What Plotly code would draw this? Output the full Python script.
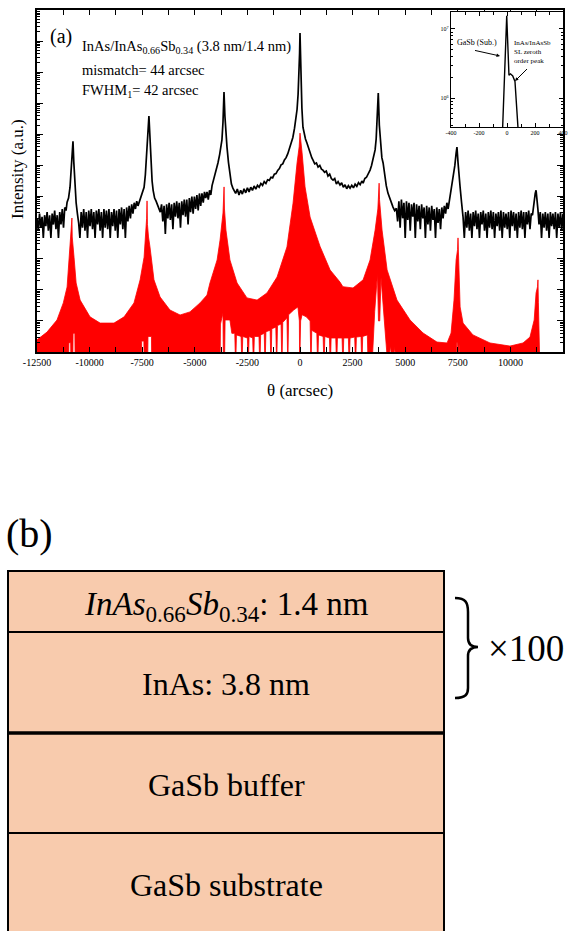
import plotly.graph_objects as go

# ---------------- data ----------------
# Measured HRXRD curve: (theta [arcsec], log10 intensity [a.u.])
black_curve = [
    (-12500, 4.30), (-12440, 3.90), (-12380, 4.45), (-12320, 4.00), (-12260, 4.35), (-12200, 3.67),
    (-12140, 4.40), (-12080, 4.05), (-12020, 4.50), (-11960, 3.90), (-11900, 4.40), (-11840, 3.67),
    (-11780, 4.45), (-11720, 4.10), (-11660, 4.55), (-11600, 3.95), (-11540, 4.40), (-11480, 3.67),
    (-11420, 4.50), (-11360, 4.10), (-11300, 4.60), (-11240, 4.00), (-11180, 4.65),
    (-11120, 4.55), (-11070, 4.82), (-11000, 4.95), (-10930, 5.30), (-10870, 5.90), (-10830, 6.40),
    (-10790, 6.78), (-10750, 6.10), (-10700, 5.30), (-10640, 4.80), (-10580, 4.45), (-10520, 4.15),
    (-10460, 3.67), (-10400, 4.50), (-10340, 4.00), (-10280, 4.60), (-10220, 3.90), (-10160, 4.50),
    (-10100, 3.67), (-10040, 4.55), (-9980, 4.05), (-9920, 4.60), (-9860, 3.95), (-9800, 4.50),
    (-9740, 3.67), (-9680, 4.55), (-9620, 4.10), (-9560, 4.60), (-9500, 3.90), (-9440, 4.50),
    (-9380, 3.67), (-9320, 4.60), (-9260, 4.00), (-9200, 4.55), (-9140, 3.95), (-9080, 4.60),
    (-9020, 3.67), (-8960, 4.50), (-8900, 4.05), (-8840, 4.60), (-8780, 3.90), (-8720, 4.55),
    (-8660, 3.67), (-8600, 4.60), (-8540, 4.10), (-8480, 4.65), (-8420, 3.95), (-8360, 4.60),
    (-8300, 3.67), (-8240, 4.65), (-8180, 4.20), (-8120, 4.70), (-8060, 4.30),
    (-8000, 4.75), (-7940, 4.45), (-7880, 4.80), (-7820, 4.60), (-7760, 4.85), (-7700, 4.70),
    (-7650, 4.80), (-7550, 5.00), (-7470, 5.15), (-7410, 5.30), (-7350, 5.70), (-7290, 6.30),
    (-7230, 7.00), (-7180, 7.59), (-7130, 6.90), (-7070, 6.00), (-7030, 5.50), (-6980, 5.20),
    (-6910, 4.95), (-6840, 4.85), (-6770, 4.70), (-6700, 4.55),
    (-6640, 4.50), (-6580, 4.75), (-6520, 4.20), (-6460, 4.70), (-6400, 3.80), (-6340, 4.75),
    (-6280, 4.30), (-6220, 4.80), (-6160, 4.25), (-6100, 4.75), (-6040, 3.95), (-5980, 4.80),
    (-5920, 4.35), (-5860, 4.85), (-5800, 4.30), (-5740, 4.80), (-5680, 4.00), (-5620, 4.85),
    (-5560, 4.40), (-5500, 4.90), (-5440, 4.35), (-5380, 4.90), (-5320, 4.10), (-5260, 4.95),
    (-5200, 4.50), (-5140, 5.00), (-5080, 4.45), (-5020, 5.00), (-4960, 4.60), (-4900, 5.05),
    (-4840, 4.55), (-4780, 5.10), (-4720, 4.70), (-4660, 5.10), (-4600, 4.80), (-4540, 5.15),
    (-4480, 4.95), (-4420, 5.15), (-4360, 4.90), (-4300, 5.20), (-4240, 5.05), (-4180, 5.35),
    (-4130, 5.47), (-4050, 5.65), (-3980, 5.85), (-3900, 6.08), (-3820, 6.35), (-3760, 6.55),
    (-3710, 6.82), (-3660, 7.40), (-3612, 8.36), (-3570, 7.60), (-3520, 7.00), (-3470, 6.59),
    (-3400, 6.10), (-3330, 5.63), (-3260, 5.40), (-3190, 5.27), (-3120, 5.20),
    (-3060, 5.10), (-2980, 5.24), (-2900, 5.05), (-2820, 5.20), (-2740, 5.08), (-2660, 5.25),
    (-2580, 5.12), (-2500, 5.28), (-2420, 5.15), (-2340, 5.30), (-2260, 5.20), (-2180, 5.34),
    (-2100, 5.24), (-2020, 5.36), (-1940, 5.30), (-1860, 5.42), (-1780, 5.36), (-1700, 5.48),
    (-1620, 5.42), (-1540, 5.54), (-1460, 5.52), (-1380, 5.62), (-1300, 5.60), (-1220, 5.72),
    (-1140, 5.74), (-1060, 5.84), (-980, 5.90), (-900, 6.02), (-820, 6.05), (-740, 6.18),
    (-660, 6.25), (-580, 6.38), (-500, 6.55), (-420, 6.70), (-340, 6.90), (-260, 7.20),
    (-200, 7.45), (-140, 7.80), (-90, 8.30), (-50, 8.90), (-20, 9.60), (0, 10.26),
    (20, 9.50), (50, 8.60), (90, 7.85), (140, 7.23), (200, 7.00), (260, 6.85),
    (330, 6.72), (400, 6.55), (480, 6.40), (560, 6.25), (620, 6.17), (700, 6.05),
    (780, 6.08), (860, 5.95), (940, 6.00), (1020, 5.88), (1090, 5.85), (1170, 5.78),
    (1250, 5.82), (1330, 5.66), (1410, 5.72), (1490, 5.58), (1570, 5.53), (1650, 5.58),
    (1730, 5.40), (1810, 5.48), (1900, 5.37), (1980, 5.44), (2060, 5.30), (2140, 5.38),
    (2220, 5.25), (2300, 5.35), (2380, 5.27), (2460, 5.36), (2540, 5.28), (2620, 5.40),
    (2700, 5.33), (2780, 5.45), (2860, 5.38), (2940, 5.50), (3000, 5.43), (3080, 5.58),
    (3160, 5.62), (3240, 5.72), (3330, 5.85), (3400, 6.00), (3470, 6.20), (3530, 6.38),
    (3570, 6.50), (3620, 6.85), (3670, 7.40), (3720, 8.33), (3770, 7.30), (3830, 6.60),
    (3890, 6.25), (3950, 6.08), (4020, 5.65), (4100, 5.35), (4180, 5.11), (4260, 4.95),
    (4340, 4.75), (4420, 4.66), (4500, 4.55), (4580, 4.62),
    (4640, 4.20), (4700, 4.85), (4760, 4.00), (4820, 4.90), (4880, 4.30), (4940, 4.80),
    (5000, 3.67), (5060, 4.85), (5120, 4.25), (5180, 4.80), (5240, 3.90), (5300, 4.75),
    (5360, 4.35), (5420, 4.80), (5480, 3.67), (5540, 4.75), (5600, 4.20), (5660, 4.70),
    (5720, 3.95), (5780, 4.75), (5840, 4.30), (5900, 4.65), (5960, 3.67), (6020, 4.70),
    (6080, 4.10), (6140, 4.65), (6200, 3.90), (6260, 4.70), (6320, 4.25), (6380, 4.60),
    (6440, 3.67), (6500, 4.65), (6560, 4.15), (6620, 4.60), (6680, 3.95), (6740, 4.65),
    (6800, 4.30), (6860, 4.70), (6920, 4.45), (6980, 4.80), (7040, 4.60),
    (7100, 4.85), (7180, 5.10), (7270, 5.53), (7360, 6.00), (7420, 6.40), (7460, 6.59),
    (7510, 6.10), (7560, 5.60), (7610, 5.30), (7680, 4.80), (7750, 4.34),
    (7810, 3.67), (7870, 4.50), (7930, 4.00), (7990, 4.55), (8050, 3.90), (8110, 4.45),
    (8170, 3.67), (8230, 4.50), (8290, 4.05), (8350, 4.55), (8410, 3.95), (8470, 4.45),
    (8530, 3.67), (8590, 4.50), (8650, 4.10), (8710, 4.55), (8770, 3.90), (8830, 4.45),
    (8890, 3.67), (8950, 4.50), (9010, 4.00), (9070, 4.55), (9130, 3.95), (9190, 4.50),
    (9250, 3.67), (9310, 4.45), (9370, 4.05), (9430, 4.50), (9490, 3.90), (9550, 4.55),
    (9610, 3.67), (9670, 4.50), (9730, 4.00), (9790, 4.45), (9850, 3.95), (9910, 4.50),
    (9970, 3.67), (10030, 4.55), (10090, 4.05), (10150, 4.50), (10210, 3.90), (10270, 4.45),
    (10330, 3.67), (10390, 4.50), (10450, 4.00), (10510, 4.55), (10570, 3.95), (10630, 4.50),
    (10690, 3.67), (10750, 4.50), (10810, 4.10), (10870, 4.55), (10930, 3.95), (10990, 4.45),
    (11050, 4.40), (11130, 4.89), (11180, 5.10), (11220, 5.20), (11270, 4.90), (11310, 4.57),
    (11360, 4.10), (11420, 4.50), (11480, 3.67), (11540, 4.45), (11600, 4.00), (11660, 4.50),
    (11720, 3.90), (11780, 4.45), (11840, 3.67), (11900, 4.50), (11960, 4.05), (12020, 4.45),
    (12080, 3.95), (12140, 4.50), (12200, 3.67), (12260, 4.45), (12320, 4.00), (12380, 4.50),
    (12440, 3.90), (12500, 4.45),
]

# Simulated curve (dense fringes) : upper envelope, log10 intensity
sim_upper = [
    (-12500, 0.39), (-12025, 0.64), (-11550, 1.03), (-11250, 1.58), (-11070, 2.09), (-10980, 2.86),
    (-10890, 3.60), (-10855, 3.95), (-10840, 4.31), (-10825, 3.70), (-10790, 3.35), (-10740, 3.05),
    (-10640, 2.22), (-10450, 1.67), (-9980, 1.13),
    (-9500, 0.93), (-8840, 0.93), (-8360, 1.13), (-7890, 1.58), (-7600, 2.32), (-7410, 3.05),
    (-7320, 3.92), (-7290, 4.30), (-7270, 4.86), (-7250, 4.10), (-7200, 3.70), (-7130, 3.38),
    (-6940, 2.32), (-6650, 1.77), (-6180, 1.35),
    (-5700, 1.19), (-5230, 1.29), (-4750, 1.58), (-4420, 1.83), (-4280, 2.22), (-3940, 2.96),
    (-3800, 3.60), (-3660, 4.47), (-3630, 4.80), (-3610, 5.31), (-3590, 4.60), (-3560, 4.30),
    (-3520, 3.92), (-3330, 2.96), (-2990, 2.22),
    (-2520, 1.74), (-2040, 1.67), (-1570, 1.90), (-1090, 2.41), (-620, 3.38), (-330, 4.79),
    (-140, 6.08), (-40, 6.60), (0, 7.04), (40, 6.70), (100, 6.40), (240, 5.31), (480, 4.34), (950, 3.40),
    (1430, 2.64), (1900, 2.25), (2040, 2.10), (2520, 2.06), (3000, 2.32), (3330, 2.96),
    (3570, 3.92), (3700, 4.60), (3740, 5.00), (3760, 5.43), (3780, 4.90), (3830, 4.40),
    (3900, 3.92), (4140, 2.64), (4610, 1.67), (5230, 1.03),
    (5850, 0.61), (6510, 0.32), (6990, 0.29), (7180, 0.61), (7320, 1.67), (7420, 2.96),
    (7490, 3.30), (7510, 3.67), (7530, 3.00), (7610, 1.45), (7750, 0.93), (8220, 0.55), (9030, 0.29),
    (9980, 0.19), (10600, 0.29), (10930, 0.48), (11130, 1.03), (11220, 1.90), (11290, 2.10),
    (11310, 2.32), (11330, 1.60), (11360, 0.80), (11400, -0.50),
]
# Simulated curve : lower envelope of the fringes (-0.5 = below the axis)
sim_lower = [
    (-12500, -0.5), (-11000, -0.5), (-10985, 0.30), (-10900, 0.30), (-10885, -0.5), (-10800, -0.5),
    (-10785, 0.60), (-10700, 0.60), (-10685, -0.5), (-7540, -0.5), (-7525, 0.35), (-7420, 0.35),
    (-7405, -0.5), (-7240, -0.5), (-7225, 0.50), (-7060, 0.50), (-7045, -0.5), (-3800, -0.5),
    (-3780, 0.90), (-3660, 1.25), (-3640, -0.5), (-3590, -0.5), (-3560, 1.03), (-3330, 1.03),
    (-3240, 0.60), (-3100, 0.60), (-3060, -0.5), (-3020, 0.55), (-2800, 0.50), (-2760, -0.5),
    (-2720, 0.50), (-2500, 0.45), (-2460, -0.5), (-2420, 0.50), (-2250, 0.45), (-2210, -0.5),
    (-2170, 0.50), (-1950, 0.50), (-1910, -0.5), (-1870, 0.55), (-1700, 0.60), (-1660, -0.5),
    (-1620, 0.65), (-1420, 0.70), (-1380, -0.5), (-1340, 0.75), (-1150, 0.80), (-1110, -0.5),
    (-1070, 0.85), (-900, 0.90), (-860, -0.5), (-820, 0.95), (-620, 1.10), (-580, -0.5),
    (-540, 1.20), (-300, 1.35), (-100, 1.45), (-30, 1.00), (-15, -0.5), (15, -0.5),
    (30, 1.00), (100, 1.20), (300, 1.13), (480, 1.00), (520, -0.5), (560, 0.70),
    (800, 0.60), (840, -0.5), (880, 0.55), (1100, 0.50), (1140, -0.5), (1180, 0.50),
    (1400, 0.45), (1440, -0.5), (1480, 0.45), (1700, 0.45), (1740, -0.5), (1780, 0.45),
    (2000, 0.45), (2040, -0.5), (2080, 0.45), (2300, 0.45), (2340, -0.5), (2380, 0.45),
    (2600, 0.48), (2640, -0.5), (2680, 0.48), (2900, 0.50), (2940, -0.5), (2980, 0.50),
    (3200, 0.55), (3240, -0.5), (3420, -0.5), (3550, 1.30), (3680, 2.50), (3730, 1.00),
    (3790, 1.00), (3850, 2.40), (4000, 1.20), (4180, -0.5), (4300, 0.20), (4400, -0.5),
    (4500, 0.15), (4600, -0.5), (7430, -0.5), (7450, 0.30), (7490, 0.30), (7530, -0.5),
    (7560, 0.25), (7650, -0.5), (11400, -0.5),
]

# Inset: rocking curve around the substrate peak
inset_theta = [-33, -31, -2, 14, 25, 41, 57, 81, 84]
inset_log_intensity = [5.40, 5.58, 7.19, 6.33, 6.35, 6.32, 6.24, 5.58, 5.40]

x_tick_values = [-12500, -10000, -7500, -5000, -2500, 0, 2500, 5000, 7500, 10000, 12500]
x_tick_labels = ["-12500", "-10000", "-7500", "-5000", "-2500", "0", "2500", "5000", "7500", "10000", "12500"]
inset_x_ticks = [-400, -200, 0, 200, 400]
inset_x_labels = ["-400", "-200", "0", "200", "400"]
inset_y_ticks = [1e6, 1e7]
inset_y_labels = ["10<sup>6</sup>", "10<sup>7</sup>"]

# Layer stack of panel (b), top to bottom
layer_labels = [
    "<i>InAs</i><sub>0.66</sub><i>Sb</i><sub>0.34</sub>: 1.4 nm",
    "InAs: 3.8 nm",
    "GaSb buffer",
    "GaSb substrate",
]
period_label = "×100"

# ---------------- figure ----------------
W, H = 575, 931
SERIF = "Liberation Serif"


def px(x):
    return x / W


def py(y):
    return 1 - y / H


fig = go.Figure()

# simulated curve (filled between fringe envelopes)
sim_x = [p[0] for p in sim_upper] + [p[0] for p in reversed(sim_lower)]
sim_y = [10 ** p[1] for p in sim_upper] + [10 ** p[1] for p in reversed(sim_lower)]
fig.add_trace(go.Scatter(x=sim_x, y=sim_y, mode="lines", fill="toself",
                         fillcolor="#ff0000", line=dict(color="#ff0000", width=0.8),
                         xaxis="x", yaxis="y", hoverinfo="skip", showlegend=False))

# measured curve
fig.add_trace(go.Scatter(x=[p[0] for p in black_curve], y=[10 ** p[1] for p in black_curve],
                         mode="lines", line=dict(color="black", width=1.7),
                         xaxis="x", yaxis="y", showlegend=False))

# inset
fig.add_trace(go.Scatter(x=inset_theta, y=[10 ** v for v in inset_log_intensity],
                         mode="lines", line=dict(color="black", width=1.4),
                         xaxis="x2", yaxis="y2", showlegend=False))

axis_common = dict(showline=True, linecolor="black", mirror="ticks", ticks="inside",
                   tickcolor="black", showgrid=False, zeroline=False, automargin=False)

fig.update_layout(
    width=W, height=H, margin=dict(l=0, r=0, t=0, b=0, autoexpand=False),
    paper_bgcolor="white", plot_bgcolor="white",
    font=dict(family=SERIF, color="black"),
    xaxis=dict(domain=[px(37), px(563)], range=[-12500, 12500], anchor="y",
               tickmode="array", tickvals=x_tick_values, ticktext=x_tick_labels,
               ticklen=5, tickwidth=1, linewidth=1.5,
               minor=dict(dtick=1250, tick0=0, ticks="inside", ticklen=5, tickcolor="black"),
               tickfont=dict(family=SERIF, size=10), **axis_common),
    yaxis=dict(domain=[py(352), py(10)], type="log", range=[0, 11], anchor="x",
               dtick=1, showticklabels=False, ticklen=6, tickwidth=1, linewidth=1.5,
               minor=dict(dtick="D1", ticks="inside", ticklen=3, tickcolor="black"),
               **axis_common),
    xaxis2=dict(domain=[px(451), px(563)], range=[-400, 400], anchor="y2",
                tickmode="array", tickvals=inset_x_ticks, ticktext=inset_x_labels,
                ticklen=4, tickwidth=1, linewidth=1.2,
                minor=dict(dtick=100, tick0=0, ticks="inside", ticklen=3, tickcolor="black"),
                tickfont=dict(family=SERIF, size=6), **axis_common),
    yaxis2=dict(domain=[py(127), py(12)], type="log", range=[5.58, 7.246], anchor="x2",
                tickmode="array", tickvals=inset_y_ticks, ticktext=inset_y_labels,
                ticklen=4, tickwidth=1, linewidth=1.2,
                minor=dict(dtick="D1", ticks="inside", ticklen=2, tickcolor="black"),
                tickfont=dict(family=SERIF, size=6), **axis_common),
)

ann = []
# panel (a) texts
ann.append(dict(text="(a)", x=px(48), y=py(36), xanchor="left", yanchor="middle", fs=20))
ann.append(dict(text="InAs/InAs<sub>0.66</sub>Sb<sub>0.34</sub> (3.8 nm/1.4 nm)", x=px(80), y=py(47),
                xanchor="left", yanchor="middle", fs=14.5))
ann.append(dict(text="mismatch= 44 arcsec", x=px(80), y=py(70), xanchor="left", yanchor="middle",
                fs=14.5))
ann.append(dict(text="FWHM<sub>1</sub>= 42 arcsec", x=px(80), y=py(91), xanchor="left",
                yanchor="middle", fs=14.5))
ann.append(dict(text="θ (arcsec)", x=px(300), y=py(390), xanchor="center", yanchor="middle", fs=17))
ann.append(dict(text="Intensity (a.u.)", x=px(17), y=py(169), xanchor="center", yanchor="middle",
                textangle=-90, fs=17))
# inset texts and arrows
ann.append(dict(text="GaSb (Sub.)", x=px(455), y=py(43), xanchor="left", yanchor="middle", fs=8))
ann.append(dict(text="InAs/InAsSb<br>SL zeroth<br>order peak", x=px(512), y=py(52), xanchor="left",
                yanchor="middle", align="left", fs=7))
ann.append(dict(text=" ", x=px(500), y=py(56), ax=-27, ay=-6, showarrow=True, arrowhead=2,
                arrowsize=0.7, arrowwidth=1, arrowcolor="black", fs=2))
ann.append(dict(text=" ", x=px(515), y=py(81), ax=14, ay=-14, showarrow=True, arrowhead=2,
                arrowsize=0.7, arrowwidth=1, arrowcolor="black", fs=2))

# panel (b)
ann.append(dict(text="(b)", x=px(4), y=py(533), xanchor="left", yanchor="middle", fs=40))
box_left, box_right = 8, 444
bounds = [571, 632, 733, 833, 960]
label_centers = [606, 684, 785, 885]
label_sizes = [33, 32, 32, 32]
shapes = []
for i, lab in enumerate(layer_labels):
    top, bot = bounds[i], bounds[i + 1]
    shapes.append(dict(type="rect", xref="paper", yref="paper",
                       x0=px(box_left), x1=px(box_right), y0=py(bot), y1=py(top),
                       fillcolor="#f8cbad", line=dict(color="black", width=2), layer="below"))
    ann.append(dict(text=lab, x=px((box_left + box_right) / 2), y=py(label_centers[i]),
                    xanchor="center", yanchor="middle", fs=label_sizes[i]))
shapes.append(dict(type="line", xref="paper", yref="paper", x0=px(box_left), x1=px(box_right),
                   y0=py(733), y1=py(733), line=dict(color="black", width=3.5)))
# curly brace
brace_pts = "M {a},{b} C {c},{d} {e},{f} {e},{g} L {e},{h} C {e},{i} {j},{k} {l},{k} " \
            "C {j},{k} {e},{m} {e},{n} L {e},{o} C {e},{p} {c},{q} {a},{r}"
br = dict(a=px(455), b=py(598), c=px(466), d=py(598), e=px(468), f=py(603), g=py(612),
          h=py(638), i=py(644), j=px(472), k=py(647), l=px(478), m=py(650), n=py(656),
          o=py(688), p=py(694), q=py(698), r=py(698))
shapes.append(dict(type="path", xref="paper", yref="paper", path=brace_pts.format(**br),
                   line=dict(color="black", width=2.5)))
ann.append(dict(text=period_label, x=px(486), y=py(648), xanchor="left", yanchor="middle", fs=37))

for a in ann:
    a["font"] = dict(family=SERIF, size=a.pop("fs"), color="black")
    a.setdefault("xref", "paper")
    a.setdefault("yref", "paper")
    a.setdefault("showarrow", False)
fig.update_layout(annotations=ann, shapes=shapes)

fig.write_html("out.html")
